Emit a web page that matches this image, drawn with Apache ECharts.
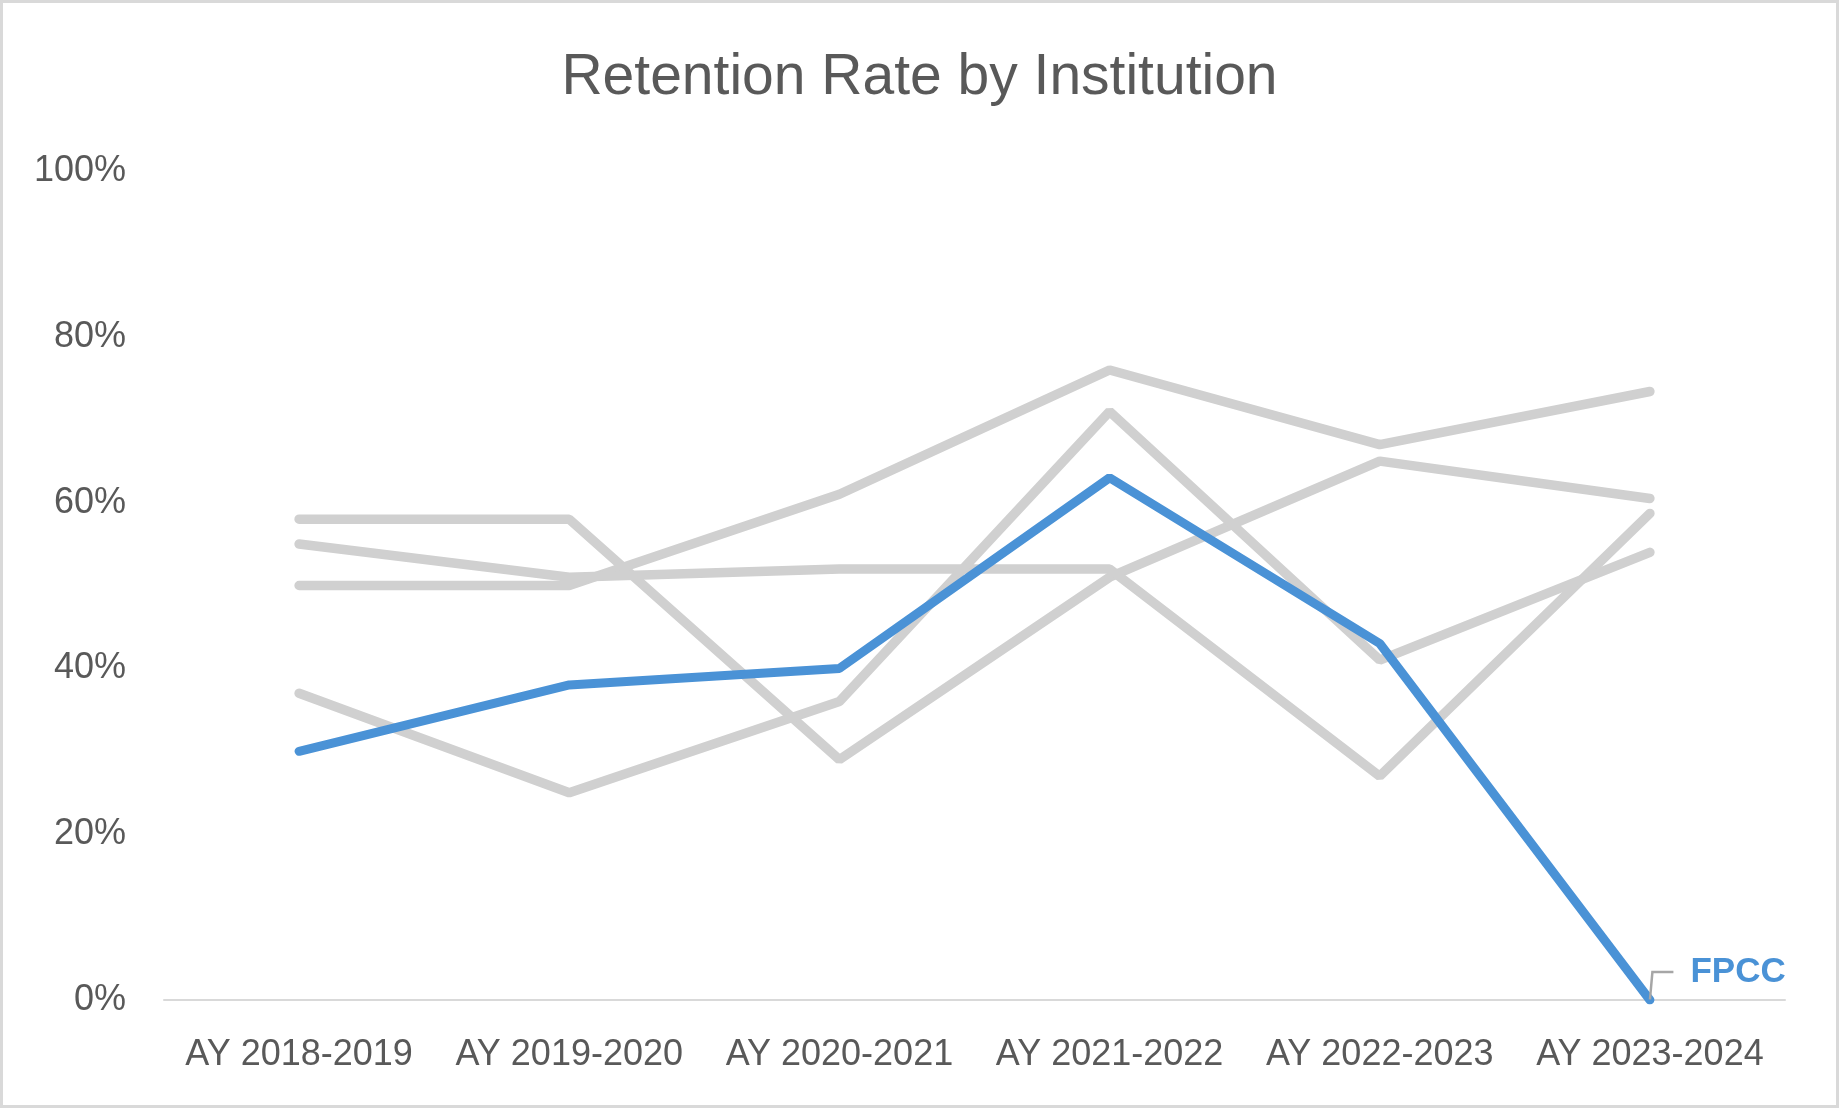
<!DOCTYPE html>
<html><head><meta charset="utf-8">
<script src="https://cdn.jsdelivr.net/npm/echarts@6/dist/echarts.min.js"></script>
<style>
html,body{margin:0;padding:0;background:#fff;}
#c{width:1839px;height:1108px;box-sizing:border-box;border:3px solid #d9d9d9;}
</style></head>
<body><div id="c"></div>
<script>
const categories = ['AY 2018-2019','AY 2019-2020','AY 2020-2021','AY 2021-2022','AY 2022-2023','AY 2023-2024'];
const yTicks = [0, 0.2, 0.4, 0.6, 0.8, 1.0];
const otherA = [0.58, 0.58, 0.29, 0.51, 0.65, 0.605];
const otherB = [0.50, 0.50, 0.61, 0.76, 0.67, 0.734];
const otherC = [0.55, 0.51, 0.52, 0.52, 0.27, 0.587];
const otherD = [0.37, 0.25, 0.36, 0.71, 0.41, 0.54];
const fpcc   = [0.30, 0.38, 0.40, 0.63, 0.43, 0.00];
const fpccName = 'FPCC';

const gray = '#d0d0d0', blue = '#4a92d6', txt = '#595959';
const font = 'Liberation Sans';

function grayLine(name, vals){
  return {name, type:'line', data: vals, symbol:'none', showSymbol:true, z:2,
    lineStyle:{color:gray, width:9.5, cap:'round'}, itemStyle:{color:gray}, silent:true};
}
const fpccData = fpcc.map((v,i)=> i===fpcc.length-1 ? {
  value: v, symbol:'circle', symbolSize:1,
  label:{show:true, formatter: '{g|}' + fpccName, position:'right', color: blue, fontWeight:'bold',
         fontSize:35, fontFamily: font, distance:2,
         rich:{g:{width:17, height:10}}}
} : {value: v});

const chart = echarts.init(document.getElementById('c'), null, {renderer:'canvas'});
chart.setOption({
  animation:false,
  title:{text:'Retention Rate by Institution', left:'center', top:42,
    textStyle:{color:txt, fontSize:57, fontWeight:'normal', fontFamily:font}},
  grid:{left:161, right:51, top:168, bottom:105, containLabel:false},
  xAxis:{type:'category', data:categories, boundaryGap:true,
    axisLine:{lineStyle:{color:'#d9d9d9', width:2}}, axisTick:{show:false},
    axisLabel:{color:txt, fontSize:36, fontFamily:font, margin:37, interval:0}},
  yAxis:{type:'value', min:yTicks[0], max:yTicks[yTicks.length-1], interval:0.2,
    axisLine:{show:false}, axisTick:{show:false}, splitLine:{show:false},
    axisLabel:{color:txt, fontSize:36, fontFamily:font, margin:38,
      formatter: v => Math.round(v*100)+'%'}},
  series:[
    grayLine('A', otherA), grayLine('B', otherB), grayLine('C', otherC), grayLine('D', otherD),
    {name:fpccName, type:'line', data:fpccData, symbol:'none', showSymbol:true, z:5,
     lineStyle:{color:blue, width:9, cap:'round'}, itemStyle:{color:blue},
     labelLine:{show:true, length2:21, lineStyle:{color:'#a6a6a6', width:2.5}},
     labelLayout:{dx:21, dy:-28}}
  ]
});
</script></body></html>
